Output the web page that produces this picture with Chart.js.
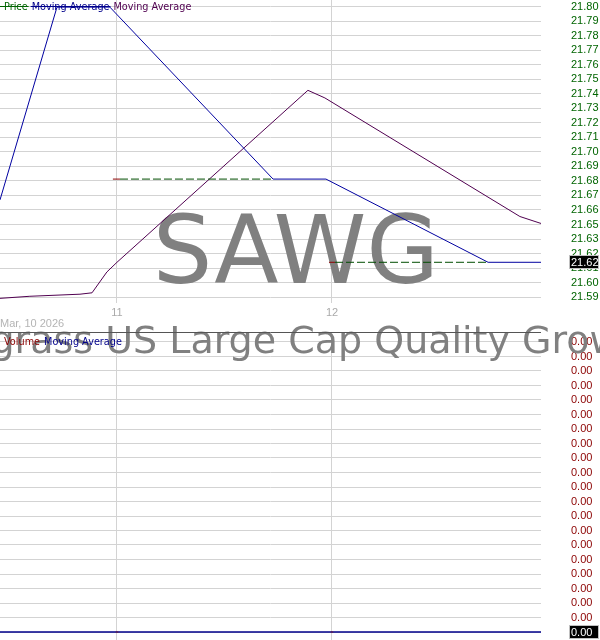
<!DOCTYPE html>
<html>
<head>
<meta charset="utf-8">
<script src="https://cdn.jsdelivr.net/npm/chart.js@4"></script>
<style>
body { margin: 0; background: #fff; }
#wrap { position: relative; width: 600px; height: 640px; overflow: hidden; }
canvas { position: absolute; left: 0; }
#priceChart { top: 0; }
#volumeChart { top: 331px; }
</style>
</head>
<body>
<div id="wrap">
  <canvas id="priceChart" width="600" height="331"></canvas>
  <canvas id="volumeChart" width="600" height="309"></canvas>
</div>
<script>
// SAWG, Mar 10 - Mar 12 2026, x = day of month
const symbol = 'SAWG';
const fundName = 'Sawgrass US Large Cap Quality Growth ETF';
const dateLabel = 'Mar, 10 2026';
const dayTicks = [11, 12];
const dayTickLabels = ['11', '12'];

const priceTickLabels = ['21.80', '21.79', '21.78', '21.77', '21.76', '21.75', '21.74', '21.73', '21.72', '21.71',
  '21.70', '21.69', '21.68', '21.67', '21.66', '21.65', '21.63', '21.62', '21.61', '21.60', '21.59'];

// daily close drawn as a level line
const priceStart = [10.981, 11.986];
const priceSplit = [11.014, 12.014];
const priceEnd = [11.726, 12.726];
const priceClose = [21.68, 21.62];
const lastPrice = 21.62;

const ma1Days = [10.456, 10.721, 10.967, 11.726, 11.972, 12.726, 12.972];
const ma1Values = [21.665, 21.804, 21.804, 21.680, 21.680, 21.620, 21.620];

const ma2Days = [10.456, 10.595, 10.828, 10.884, 10.953, 11.0, 11.888, 11.967, 12.874, 12.972];
const ma2Values = [21.594, 21.5955, 21.597, 21.598, 21.613, 21.620, 21.744, 21.7385, 21.653, 21.648];

const volumeDays = [11, 12];
const volumeValues = [0, 0];
const volumeMaDays = [10.456, 12.972];
const volumeMaValues = [0, 0];
const lastVolume = 0;

Chart.defaults.font.family = "'Liberation Sans', Arial, sans-serif";
Chart.defaults.animation = false;

const gridColor = '#d3d3d3';
const xMin = 10.456, xMax = 12.972;

function toPoints(xs, ys) {
    return xs.map((x, i) => ({ x: x, y: ys[i] }));
}

function buildPriceData() {
    const pts = [];
    priceClose.forEach((v, i) => {
        pts.push({ x: priceStart[i], y: v });
        pts.push({ x: priceSplit[i], y: v });
        pts.push({ x: priceEnd[i], y: v });
        pts.push({ x: priceEnd[i] + 0.001, y: null });
    });
    return pts;
}

function fitRightAxis(s) {
    s.width = 59;
    s.paddingTop = 0;
    s.paddingBottom = 0;
}

function drawWatermarkName(ctx, baseline) {
    ctx.save();
    ctx.fillStyle = '#808080';
    ctx.font = "38px 'DejaVu Sans'";
    ctx.textAlign = 'left';
    ctx.textBaseline = 'alphabetic';
    ctx.fillText(fundName, -88, baseline);
    ctx.restore();
}

function drawLegend(ctx, items, baseline, strike) {
    ctx.save();
    ctx.font = "9.7px 'DejaVu Sans'";
    ctx.textBaseline = 'alphabetic';
    let x = 4;
    items.forEach((it, i) => {
        ctx.fillStyle = it.color;
        ctx.fillText(it.text, x, baseline);
        const w = ctx.measureText(it.text).width;
        if (strike && it.strike) {
            ctx.strokeStyle = it.color;
            ctx.lineWidth = 1;
            ctx.beginPath();
            ctx.moveTo(i === 0 ? 0 : x - 1, baseline - 3.5);
            ctx.lineTo(x + w + 1, baseline - 3.5);
            ctx.stroke();
        }
        x += w + 4;
    });
    ctx.restore();
}

function drawValueBox(chart, scaleId, value, text) {
    const ctx = chart.ctx;
    const y = chart.scales[scaleId].getPixelForValue(value);
    const x0 = chart.chartArea.right + 28;
    ctx.save();
    ctx.fillStyle = '#000';
    ctx.fillRect(x0, Math.round(y) - 7, 30, 14);
    ctx.strokeStyle = '#c0c0c0';
    ctx.lineWidth = 1;
    ctx.strokeRect(x0 + 0.5, Math.round(y) - 6.5, 29, 13);
    ctx.fillStyle = '#fff';
    ctx.font = "11px 'Liberation Sans'";
    ctx.textBaseline = 'middle';
    ctx.fillText(text, x0 + 2, y + 0.5);
    ctx.restore();
}

const priceDecor = {
    id: 'priceDecor',
    beforeDatasetsDraw(chart) {
        const ctx = chart.ctx;
        ctx.save();
        ctx.fillStyle = '#808080';
        ctx.font = "94px 'DejaVu Sans'";
        ctx.textAlign = 'center';
        ctx.fillText(symbol, 296, 283);
        ctx.restore();
        drawWatermarkName(ctx, 353);
    },
    afterDatasetsDraw(chart) {
        drawLegend(chart.ctx, [
            { text: 'Price', color: '#006400', strike: true },
            { text: 'Moving Average', color: '#00008b', strike: true },
            { text: 'Moving Average', color: '#500050', strike: false }
        ], 10, true);
        drawValueBox(chart, 'y', lastPrice, lastPrice.toFixed(2));
    }
};

const volumeDecor = {
    id: 'volumeDecor',
    beforeDatasetsDraw(chart) {
        drawWatermarkName(chart.ctx, 22);
    },
    afterDatasetsDraw(chart) {
        const ctx = chart.ctx;
        const a = chart.chartArea;
        ctx.save();
        ctx.strokeStyle = '#555';
        ctx.lineWidth = 1;
        ctx.beginPath();
        ctx.moveTo(a.left, a.top + 0.5);
        ctx.lineTo(a.right, a.top + 0.5);
        ctx.stroke();
        ctx.restore();
        drawLegend(ctx, [
            { text: 'Volume', color: '#8b0000' },
            { text: 'Moving Average', color: '#00008b' }
        ], 14, false);
        drawValueBox(chart, 'y', lastVolume, lastVolume.toFixed(2));
    }
};

const priceTickTop = 21.8043, priceTickStep = 0.01047;

new Chart(document.getElementById('priceChart'), {
    type: 'line',
    data: {
        datasets: [
            {
                label: 'Price',
                data: buildPriceData(),
                borderWidth: 1,
                pointRadius: 0,
                spanGaps: false,
                segment: {
                    borderColor: c => c.p0DataIndex % 4 === 0 ? '#8b0000' : '#004d00',
                    borderDash: c => c.p0DataIndex % 4 === 0 ? [] : [8, 3]
                }
            },
            {
                label: 'Moving Average',
                data: toPoints(ma1Days, ma1Values),
                borderColor: '#0000a0',
                borderWidth: 1,
                pointRadius: 0
            },
            {
                label: 'Moving Average',
                data: toPoints(ma2Days, ma2Values),
                borderColor: '#500050',
                borderWidth: 1,
                pointRadius: 0
            }
        ]
    },
    options: {
        responsive: false,
        layout: { padding: 0 },
        plugins: { legend: { display: false }, tooltip: { enabled: false } },
        scales: {
            x: {
                type: 'linear',
                min: xMin,
                max: xMax,
                afterBuildTicks: s => { s.ticks = dayTicks.map(v => ({ value: v })); },
                afterFit: s => { s.height = 28; },
                ticks: {
                    autoSkip: false,
                    maxRotation: 0,
                    padding: 3,
                    color: '#aaaaaa',
                    font: { size: 11 },
                    callback: (v, i) => dayTickLabels[i]
                },
                grid: { color: gridColor, drawTicks: false },
                border: { display: false },
                title: {
                    display: true,
                    text: dateLabel,
                    align: 'start',
                    color: '#b4b4b4',
                    font: { size: 11 },
                    padding: { top: 0, bottom: 0 }
                }
            },
            y: {
                position: 'right',
                min: priceTickTop - (303 - 6.7) * priceTickStep / 14.52,
                max: priceTickTop + 6.7 * priceTickStep / 14.52,
                afterBuildTicks: s => {
                    s.ticks = priceTickLabels.map((t, k) => ({ value: priceTickTop - k * priceTickStep }));
                },
                afterFit: fitRightAxis,
                ticks: {
                    autoSkip: false,
                    padding: 30,
                    color: '#006400',
                    font: { size: 11 },
                    callback: (v, i) => priceTickLabels[i]
                },
                grid: { color: gridColor, drawTicks: false },
                border: { display: false }
            }
        }
    },
    plugins: [priceDecor]
});

new Chart(document.getElementById('volumeChart'), {
    type: 'bar',
    data: {
        datasets: [
            {
                type: 'bar',
                label: 'Volume',
                data: toPoints(volumeDays, volumeValues),
                backgroundColor: '#8b0000',
                barThickness: 2
            },
            {
                type: 'line',
                label: 'Moving Average',
                data: toPoints(volumeMaDays, volumeMaValues),
                borderColor: '#00008b',
                borderWidth: 1.5,
                pointRadius: 0
            }
        ]
    },
    options: {
        responsive: false,
        layout: { padding: { top: 1 } },
        plugins: { legend: { display: false }, tooltip: { enabled: false } },
        scales: {
            x: {
                type: 'linear',
                min: xMin,
                max: xMax,
                offset: false,
                afterBuildTicks: s => { s.ticks = dayTicks.map(v => ({ value: v })); },
                afterFit: s => { s.height = 0; },
                ticks: { display: false },
                grid: { color: gridColor, drawTicks: false, offset: false },
                border: { display: false }
            },
            y: {
                position: 'right',
                min: -8 * 0.002 / 290,
                max: 0.002 + 10 * 0.002 / 290,
                afterBuildTicks: s => {
                    const t = [];
                    for (let k = 0; k <= 20; k++) t.push({ value: k * 0.0001 });
                    s.ticks = t;
                },
                afterFit: fitRightAxis,
                ticks: {
                    autoSkip: false,
                    padding: 30,
                    color: '#8b0000',
                    font: { size: 11 },
                    callback: v => v.toFixed(2)
                },
                grid: { color: gridColor, drawTicks: false },
                border: { display: false }
            }
        }
    },
    plugins: [volumeDecor]
});
</script>
</body>
</html>
